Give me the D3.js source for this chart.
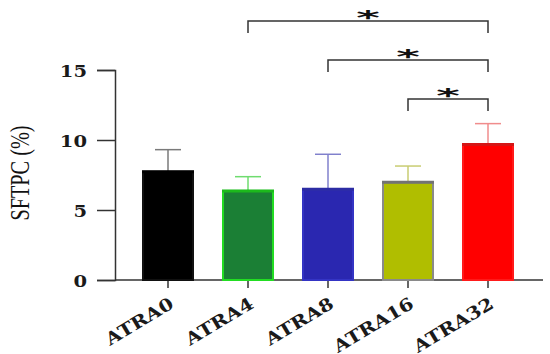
<!DOCTYPE html>
<html>
<head>
<meta charset="utf-8">
<script src="https://cdn.jsdelivr.net/npm/d3@7"></script>
<style>
  body { margin: 0; background: #fff; }
  svg { display: block; }
</style>
</head>
<body>
<div id="chart"></div>
<script>
const width = 550;
const height = 354;

const groups = ["ATRA0", "ATRA4", "ATRA8", "ATRA16", "ATRA32"];
const means = [7.73, 6.36, 6.48, 6.98, 9.67];
const errors = [1.58, 1.02, 2.5, 1.16, 1.5];
const yTicks = [0, 5, 10, 15];
const fills = ["#000000", "#1b7f35", "#2a27b0", "#b0be00", "#ff0000"];
const strokes = ["#111111", "#22dd22", "#3434c4", "#8a8a8a", "#ff1a1a"];
const errColors = ["#7a7a7a", "#6fdc6f", "#8080cc", "#c9cd72", "#f08c8c"];
// comparisons: [from, to, label]
const comparisons = [["ATRA4", "ATRA32", "*"], ["ATRA8", "ATRA32", "*"], ["ATRA16", "ATRA32", "*"]];
const bracketY = [21, 60, 99];

const svg = d3.select("#chart").append("svg")
  .attr("width", width)
  .attr("height", height);

const x = d3.scaleBand()
  .domain(groups)
  .range([128, 528])
  .paddingInner(0.35)
  .paddingOuter(0.175);

const y = d3.scaleLinear()
  .domain([0, 15])
  .range([280, 70]);

const axisColor = "#333";

// y axis
const yAxis = svg.append("g")
  .attr("transform", "translate(115,0)")
  .call(d3.axisLeft(y).tickValues(yTicks).tickSize(18).tickPadding(10));
yAxis.select(".domain").attr("stroke", axisColor).attr("stroke-width", 1.5);
yAxis.selectAll(".tick line").attr("stroke", axisColor).attr("stroke-width", 1.5);
yAxis.selectAll(".tick text")
  .attr("font-family", "DejaVu Serif")
  .attr("font-weight", "bold")
  .attr("font-size", 17)
  .attr("fill", "#1a1a1a")
  .attr("dy", "0.36em")
  .attr("x", -28 / 1.15)
  .attr("transform", "scale(1.15,1)");

// x axis line
svg.append("line")
  .attr("x1", 115).attr("x2", 543)
  .attr("y1", y(0)).attr("y2", y(0))
  .attr("stroke", axisColor).attr("stroke-width", 1.5);

svg.selectAll(".xtick")
  .data(groups)
  .join("line")
  .attr("class", "xtick")
  .attr("x1", d => x(d) + x.bandwidth() / 2)
  .attr("x2", d => x(d) + x.bandwidth() / 2)
  .attr("y1", y(0)).attr("y2", y(0) + 8)
  .attr("stroke", axisColor).attr("stroke-width", 1.5);

svg.selectAll(".xlabel")
  .data(groups)
  .join("text")
  .attr("class", "xlabel")
  .attr("transform", d => "translate(" + (x(d) + x.bandwidth() / 2 + 7) + ",307) rotate(-31) scale(1.15,1)")
  .attr("text-anchor", "end")
  .attr("font-family", "DejaVu Serif")
  .attr("font-weight", "bold")
  .attr("font-size", 17.5)
  .attr("fill", "#1a1a1a")
  .text(d => d);

// y title
svg.append("text")
  .attr("transform", "translate(29,173) rotate(-90) scale(0.75,1)")
  .attr("text-anchor", "middle")
  .attr("font-family", "Liberation Serif")
  .attr("font-size", 27)
  .attr("fill", "#111")
  .text("SFTPC (%)");

// error bars
const capHalf = x.bandwidth() / 4;
const eb = svg.selectAll(".err")
  .data(groups)
  .join("g")
  .attr("class", "err");
eb.append("line")
  .attr("x1", d => x(d) + x.bandwidth() / 2)
  .attr("x2", d => x(d) + x.bandwidth() / 2)
  .attr("y1", (d, i) => y(means[i]))
  .attr("y2", (d, i) => y(means[i] + errors[i]))
  .attr("stroke", (d, i) => errColors[i])
  .attr("stroke-width", 1.5);
eb.append("line")
  .attr("x1", d => x(d) + x.bandwidth() / 2 - capHalf)
  .attr("x2", d => x(d) + x.bandwidth() / 2 + capHalf)
  .attr("y1", (d, i) => y(means[i] + errors[i]))
  .attr("y2", (d, i) => y(means[i] + errors[i]))
  .attr("stroke", (d, i) => errColors[i])
  .attr("stroke-width", 1.5);

// bars
svg.selectAll(".bar")
  .data(groups)
  .join("rect")
  .attr("class", "bar")
  .attr("x", d => x(d) + 1)
  .attr("width", x.bandwidth() - 2)
  .attr("y", (d, i) => y(means[i]))
  .attr("height", (d, i) => y(0) - y(means[i]))
  .attr("fill", (d, i) => fills[i])
  .attr("stroke", (d, i) => strokes[i])
  .attr("stroke-width", 2);

// darker top edge
svg.selectAll(".bartop")
  .data(groups)
  .join("line")
  .attr("class", "bartop")
  .attr("x1", d => x(d))
  .attr("x2", d => x(d) + x.bandwidth())
  .attr("y1", (d, i) => y(means[i]))
  .attr("y2", (d, i) => y(means[i]))
  .attr("stroke", (d, i) => i === 0 ? "#000" : d3.color(strokes[i]).darker(0.5))
  .attr("stroke-width", 3);

// significance brackets
const cx = d => x(d) + x.bandwidth() / 2;
comparisons.forEach((c, i) => {
  const x1 = cx(c[0]), x2 = cx(c[1]), by = bracketY[i];
  svg.append("path")
    .attr("d", "M" + x1 + "," + (by + 12) + "V" + by + "H" + x2 + "V" + (by + 12))
    .attr("fill", "none")
    .attr("stroke", "#333")
    .attr("stroke-width", 1.5);
  svg.append("text")
    .attr("transform", "translate(" + ((x1 + x2) / 2) + "," + (by + 3) + ") scale(1.5,0.62)")
    .attr("text-anchor", "middle")
    .attr("font-family", "DejaVu Sans")
    .attr("font-weight", "bold")
    .attr("font-size", 30)
    .attr("fill", "#111")
    .text(c[2]);
});
</script>
</body>
</html>
